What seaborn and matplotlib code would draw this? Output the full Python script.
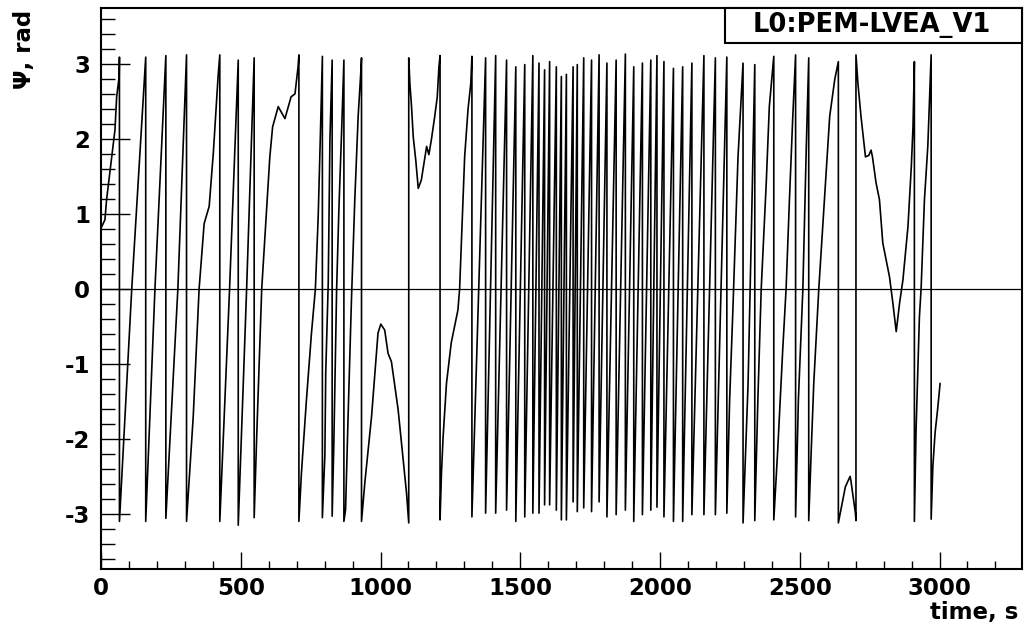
import matplotlib
matplotlib.use("Agg")
import matplotlib.pyplot as plt
from matplotlib.ticker import MultipleLocator
from matplotlib.patches import Rectangle
import numpy as np
import pandas as pd
import seaborn as sns

# ---------------- data ----------------
# early part (0 .. 1327 s): vertices of the wrapped phase curve
early_t = [0, 14, 20, 36, 50, 56, 65, 66,
           66, 110, 160,
           160, 193, 232,
           232, 275, 306,
           306, 330, 351, 369, 387, 402, 419, 425,
           425, 460, 491,
           491, 521, 548,
           548, 557, 575, 604, 614, 634, 658, 680, 694, 705, 708,
           708, 717, 735, 753, 767, 777, 785, 792,
           792, 801, 804, 813, 819, 827,
           827, 833, 837, 843, 851, 861, 869,
           869, 875, 884, 896, 908, 920, 930, 932,
           932, 944, 968, 991, 1001, 1015, 1027, 1039, 1063, 1081, 1093, 1101,
           1101, 1105, 1111, 1117, 1126, 1135, 1146, 1159, 1165, 1173, 1182, 1194, 1203, 1209, 1213,
           1213, 1218, 1224, 1236, 1253, 1265, 1277, 1283, 1293, 1301, 1313, 1323, 1327]
early_psi = [0.81, 0.92, 1.19, 1.68, 2.12, 2.56, 2.83, 3.09,
             -3.10, 0.0, 3.09,
             -3.10, 0.0, 3.11,
             -3.06, 0.0, 3.12,
             -3.10, -1.70, 0.0, 0.87, 1.10, 1.82, 2.84, 3.12,
             -3.10, 0.0, 3.05,
             -3.15, 0.0, 3.08,
             -3.05, -1.97, 0.0, 1.76, 2.16, 2.43, 2.27, 2.56, 2.60, 2.96, 3.12,
             -3.10, -2.46, -1.48, -0.59, 0.0, 0.96, 2.07, 3.10,
             -3.05, -2.21, -1.12, 0.08, 1.99, 3.05,
             -3.03, -2.06, -1.21, 0.0, 1.05, 2.12, 3.05,
             -3.10, -2.94, -1.70, -0.15, 1.19, 2.30, 2.92, 3.08,
             -3.10, -2.58, -1.70, -0.59, -0.47, -0.55, -0.86, -0.97, -1.61, -2.28, -2.72, -3.12,
             3.08, 2.74, 2.43, 2.03, 1.72, 1.34, 1.45, 1.76, 1.90, 1.79, 1.99, 2.30, 2.56, 2.96, 3.11,
             -3.08, -2.46, -1.97, -1.26, -0.72, -0.50, -0.28, 0.0, 0.96, 1.76, 2.39, 2.74, 3.10]

# dense part: times of the phase wraps, with the level just before / after each wrap
dense_wrap_t = [1327, 1376, 1412, 1451, 1484, 1516, 1545, 1567, 1587, 1605, 1629,
                1647, 1665, 1689, 1704, 1727, 1755, 1782, 1810, 1843, 1876, 1906,
                1937, 1967, 1989, 2014, 2048, 2081, 2114, 2157, 2198, 2239]
dense_top_psi = [3.10, 3.08, 3.11, 3.05, 2.96, 2.99, 3.11, 3.01, 2.92, 3.03, 2.96,
                 2.83, 2.86, 2.96, 2.99, 3.08, 3.05, 3.12, 3.01, 3.05, 3.13, 2.96,
                 3.01, 3.05, 3.11, 3.03, 2.94, 2.96, 3.01, 3.11, 3.08, 3.09]
dense_bottom_psi = [-3.04, -2.99, -2.99, -2.95, -3.10, -3.04, -2.99, -2.99, -2.88, -2.88, -2.95,
                    -3.08, -3.08, -2.84, -2.97, -2.92, -2.97, -2.84, -3.04, -3.01, -2.95, -3.10,
                    -3.01, -2.95, -2.91, -3.04, -3.10, -3.10, -3.01, -3.01, -3.01, -2.99]

# late part (2239 .. 3002 s)
late_t = [2249, 2261, 2279, 2297,
          2297, 2315, 2327, 2339,
          2339, 2350, 2362, 2380, 2391, 2407,
          2407, 2421, 2439, 2451, 2463, 2475, 2485,
          2485, 2495, 2511, 2523, 2532,
          2532, 2541, 2550, 2568, 2592, 2607, 2625, 2638,
          2638, 2663, 2680, 2683, 2699, 2701,
          2701, 2708, 2719, 2735, 2747, 2755, 2760, 2773, 2785, 2797, 2821, 2833, 2845, 2857,
          2869, 2887, 2899, 2905, 2910,
          2910, 2916, 2922, 2928, 2934, 2946, 2958, 2970,
          2970, 2976, 2984, 2993, 3002]
late_psi = [-1.48, -0.24, 1.76, 3.01,
            -3.12, -1.26, 0.79, 2.99,
            -3.09, -1.48, 0.0, 1.41, 2.43, 3.10,
            -3.08, -2.15, -0.81, 0.0, 1.19, 2.30, 3.12,
            -3.04, -1.48, 0.0, 1.85, 3.08,
            -3.09, -2.15, -1.26, 0.0, 1.41, 2.30, 2.79, 3.03,
            -3.12, -2.64, -2.50, -2.56, -2.99, -3.09,
            3.12, 2.74, 2.30, 1.76, 1.78, 1.85, 1.76, 1.41, 1.19, 0.61, 0.16, -0.19, -0.57, -0.19,
            0.12, 0.83, 1.63, 2.16, 3.03,
            -3.10, -1.88, -1.12, -0.37, 0.0, 1.19, 1.90, 3.12,
            -3.07, -2.37, -1.92, -1.61, -1.26]

channel_name = "L0:PEM-LVEA_V1"
x_title = "time, s"
y_title = "\u03a8, rad"

# ---------------- assemble the polyline ----------------
dense_t, dense_psi = [], []
for tw, top, bot in zip(dense_wrap_t, dense_top_psi, dense_bottom_psi):
    dense_t += [tw, tw]
    dense_psi += [top, bot]

time_s = early_t + dense_t + late_t
psi_rad = early_psi + dense_psi + late_psi
df = pd.DataFrame({"time": time_s, "psi": psi_rad})

# ---------------- drawing ----------------
sns.set_style("white")
plt.rcParams["font.family"] = ["DejaVu Sans"]
plt.rcParams["font.weight"] = "bold"
plt.rcParams["axes.unicode_minus"] = False
for key in ["text.color", "axes.labelcolor", "xtick.color", "ytick.color",
            "axes.edgecolor"]:
    plt.rcParams[key] = "black"

W, H = 1024, 626
fig = plt.figure(figsize=(W / 100, H / 100), dpi=100)
ax = fig.add_axes([101 / W, 1 - 569 / H, (1022 - 101) / W, (569 - 8) / H])

sns.lineplot(data=df, x="time", y="psi", sort=False, estimator=None,
             color="black", linewidth=1.2, ax=ax)
ax.axhline(0, color="black", linewidth=0.9)

ax.set_xlim(0, 3295)
ax.set_ylim(-3.735, 3.745)
ax.xaxis.set_major_locator(MultipleLocator(500))
ax.xaxis.set_minor_locator(MultipleLocator(100))
ax.yaxis.set_major_locator(MultipleLocator(1))
ax.yaxis.set_minor_locator(MultipleLocator(0.2))

ax.tick_params(axis="x", which="major", direction="in", length=12, width=1.0,
               labelsize=16.5, pad=6, top=False, bottom=True,
               color="black", labelcolor="black")
ax.tick_params(axis="x", which="minor", direction="in", length=6, width=1.0,
               top=False, bottom=True, color="black")
ax.tick_params(axis="y", which="major", direction="in", length=21, width=1.0,
               labelsize=16.5, pad=8, right=False, left=True,
               color="black", labelcolor="black")
ax.tick_params(axis="y", which="minor", direction="in", length=10, width=1.0,
               right=False, left=True, color="black")
for lab in ax.get_xticklabels() + ax.get_yticklabels():
    lab.set_fontweight("bold")

for sp in ax.spines.values():
    sp.set_visible(True)
    sp.set_color("black")
    sp.set_linewidth(1.5)

ax.set_xlabel("")
ax.set_ylabel("")

fig.text(1018 / W, 1 - 613 / H, x_title, ha="right", va="center",
         fontsize=16.5, fontweight="bold", color="black")
fig.text(24 / W, 1 - 10 / H, y_title, ha="center", va="top", rotation=90,
         fontsize=16.5, fontweight="bold", color="black")

# title box of the channel
box = Rectangle((725 / W, 1 - 43 / H), (1022 - 725) / W, 35 / H,
                transform=fig.transFigure, facecolor="white", edgecolor="black",
                linewidth=1.5, zorder=10)
fig.patches.append(box)
fig.text(872 / W, 1 - 25.5 / H, channel_name, ha="center", va="center",
         fontsize=18.5, fontweight="bold", color="black", zorder=11)

fig.savefig("out.png", dpi=100)
